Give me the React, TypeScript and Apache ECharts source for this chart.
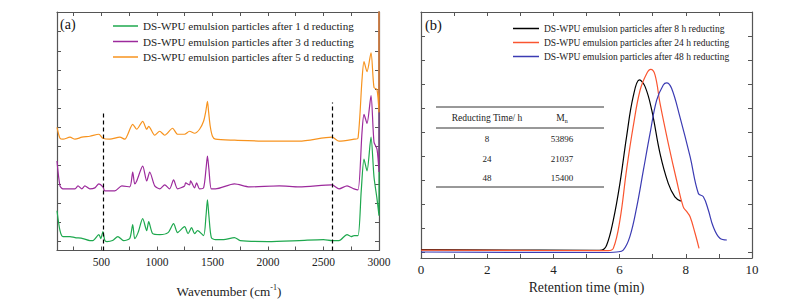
import React, { useEffect, useRef } from "react";
import * as echarts from "echarts";

const FONT = "Liberation Serif";

// ---------- Panel (a): FTIR spectra ----------
const ftirNames = [
  "DS-WPU emulsion particles after 1 d reducting",
  "DS-WPU emulsion particles after 3 d reducting",
  "DS-WPU emulsion particles after 5 d reducting",
];
const ftirColors = ["#1ea84e", "#9c2a9c", "#f7931e"];

const ftir1d: [number, number][] = [
  [100, 40], [127, 20], [154, 14], [217, 14], [262, 13], [333, 12], [396, 10], [423, 10],
  [477, 16], [495, 12], [513, 19], [531, 10], [549, 9], [600, 10], [648, 14], [700, 10],
  [755, 12], [782, 26], [800, 12], [830, 18], [872, 32], [908, 20], [926, 29], [962, 17],
  [1025, 16], [1100, 18], [1150, 27], [1186, 18], [1249, 24], [1280, 17], [1312, 23],
  [1339, 17], [1366, 20], [1420, 15], [1442, 35], [1455, 51], [1468, 35], [1490, 13],
  [1527, 11], [1600, 11], [1698, 13], [1750, 10], [2000, 9], [2281, 10], [2500, 11],
  [2577, 10], [2640, 10], [2712, 16], [2750, 14], [2775, 15], [2811, 15], [2840, 60],
  [2865, 92], [2892, 80], [2928, 114], [2955, 74], [2982, 52], [3000, 35], [3000, 300],
];
const ftir3d: [number, number][] = [
  [100, 90], [127, 65], [154, 62], [217, 62], [262, 62], [289, 65], [324, 62], [351, 65],
  [396, 62], [441, 63], [477, 67], [513, 64], [531, 60], [576, 60], [621, 60], [684, 65],
  [755, 64], [782, 79], [800, 67], [818, 70], [872, 85], [908, 70], [935, 79], [980, 65],
  [1025, 62], [1070, 66], [1114, 62], [1150, 71], [1186, 62], [1249, 65], [1258, 68],
  [1294, 66], [1303, 70], [1339, 63], [1357, 68], [1384, 62], [1420, 63], [1442, 82],
  [1455, 95], [1468, 82], [1490, 62], [1527, 62], [1698, 67], [1833, 64], [2102, 65],
  [2281, 64], [2577, 66], [2640, 62], [2712, 65], [2775, 62], [2811, 61], [2847, 119],
  [2865, 137], [2892, 128], [2928, 156], [2955, 109], [2982, 102], [3000, 79], [3000, 300],
];
const ftir5d: [number, number][] = [
  [100, 124], [127, 113], [154, 112], [217, 114], [262, 112], [324, 114], [396, 115],
  [477, 117], [513, 113], [576, 112], [666, 114], [710, 112], [782, 127], [818, 122],
  [872, 130], [908, 122], [926, 125], [980, 116], [1025, 120], [1070, 116], [1141, 123],
  [1186, 117], [1249, 117], [1294, 120], [1339, 118], [1384, 122], [1420, 130], [1440, 140],
  [1455, 150], [1465, 140], [1480, 125], [1500, 115], [1527, 112], [1700, 111], [2000, 110],
  [2281, 110], [2577, 114], [2640, 110], [2775, 112], [2811, 113], [2847, 172], [2865, 190],
  [2892, 180], [2928, 199], [2955, 164], [2982, 162], [3000, 139], [3000, 300],
];
const dashedMarks = [
  { x: 513, top: 140 },
  { x: 2577, top: 149 },
];
const aXLabels = [500, 1000, 1500, 2000, 2500, 3000];
const aXTicks = [250, 500, 750, 1000, 1250, 1500, 1750, 2000, 2250, 2500, 2750, 3000];
const aYTicks = [9, 28.2, 47.4, 66.6, 85.8, 105, 124.2, 143.4, 162.6, 181.8, 201, 220.2, 239.4];

// ---------- Panel (b): GPC curves ----------
const gpcNames = [
  "DS-WPU emulsion particles after 8 h reducting",
  "DS-WPU emulsion particles after 24 h reducting",
  "DS-WPU emulsion particles after 48 h reducting",
];
const gpcColors = ["#000000", "#fa5530", "#3b3bb3"];

const gpc8h: [number, number][] = [
  [0, 0.1], [5.3, 0.07], [5.46, 0.08], [5.61, 0.29], [5.81, 1.33], [6.01, 2.86], [6.21, 4.8],
  [6.41, 6.47], [6.6, 7.17], [6.77, 6.89], [6.97, 5.92], [7.22, 4.11], [7.47, 2.86],
  [7.67, 2.3], [7.85, 2.12],
];
const gpc24h: [number, number][] = [
  [0, 0.08], [5.5, 0.06], [5.66, 0.06], [5.81, 0.15], [6.01, 1.33], [6.21, 3.42], [6.41, 5.22],
  [6.62, 6.75], [6.82, 7.44], [6.94, 7.61], [7.07, 7.38], [7.22, 6.2], [7.47, 4.53],
  [7.72, 3.0], [7.92, 1.89], [8.03, 1.68], [8.13, 1.47], [8.28, 0.78], [8.4, 0.15],
];
const gpc48h: [number, number][] = [
  [0, 0.0], [5.7, -0.02], [5.91, 0.0], [6.11, 0.08], [6.31, 0.64], [6.52, 1.89], [6.72, 3.42],
  [6.92, 4.94], [7.12, 6.33], [7.32, 6.96], [7.42, 7.05], [7.57, 6.82], [7.82, 5.64],
  [8.13, 3.97], [8.38, 2.44], [8.53, 2.3], [8.68, 1.75], [8.83, 1.05], [9.03, 0.57], [9.24, 0.5],
];
const bXLabels = [0, 2, 4, 6, 8, 10];
const bXTicks = [0, 1, 2, 3, 4, 5, 6, 7, 8, 9, 10];
const bYTicks = [0, 1, 2, 3, 4, 5, 6, 7, 8, 9, 10];

// table
const tableHeader = ["Reducting Time/ h", "M{sub|n}"];
const tableTimes = ["8", "24", "48"];
const tableMn = ["53896", "21037", "15400"];

const axisColor = "#555";

function boxAxes(
  gridIndex: number,
  xmin: number,
  xmax: number,
  xLabels: number[],
  xTicks: number[],
  name: string,
  nameGap: number,
  labelSize: number,
  nameSize: number,
  labelMargin: number,
  nameShift: number
) {
  const common = {
    gridIndex,
    type: "value" as const,
    min: xmin,
    max: xmax,
    splitLine: { show: false },
    axisLine: { show: true, onZero: false, lineStyle: { color: axisColor, width: 1.2 } },
  };
  return [
    {
      ...common,
      position: "bottom",
      axisTick: { show: true, inside: true, length: 4, customValues: xTicks, lineStyle: { color: axisColor } },
      axisLabel: {
        show: true,
        customValues: xLabels,
        formatter: (v: number) => String(v),
        fontFamily: FONT,
        fontSize: labelSize,
        color: "#222",
        margin: labelMargin,
      },
      name,
      nameLocation: "middle",
      nameGap,
      nameTextStyle: {
        fontFamily: FONT,
        fontSize: nameSize,
        color: "#222",
        padding: [0, 0, 0, nameShift],
        rich: { sup: { fontFamily: FONT, fontSize: 8, color: "#222", padding: [0, 0, 8, 0] } },
      },
    },
    {
      ...common,
      position: "top",
      axisTick: { show: true, inside: true, length: 4, customValues: xTicks, lineStyle: { color: axisColor } },
      axisLabel: { show: false },
    },
  ];
}

function boxYAxes(gridIndex: number, ymin: number, ymax: number, ticks: number[]) {
  const common = {
    gridIndex,
    type: "value" as const,
    min: ymin,
    max: ymax,
    splitLine: { show: false },
    axisLabel: { show: false },
    axisLine: { show: true, onZero: false, lineStyle: { color: axisColor, width: 1.2 } },
    axisTick: { show: true, inside: true, length: 4, customValues: ticks, lineStyle: { color: axisColor } },
  };
  return [
    { ...common, position: "left" },
    { ...common, position: "right" },
  ];
}

export default function App() {
  const ref = useRef<HTMLDivElement>(null);

  useEffect(() => {
    if (!ref.current) return;
    const chart = echarts.init(ref.current, undefined, { renderer: "svg" });

    const ftirData = [ftir1d, ftir3d, ftir5d];
    const gpcData = [gpc8h, gpc24h, gpc48h];

    const series: any[] = [];
    ftirData.forEach((d, i) => {
      const s: any = {
        name: ftirNames[i],
        type: "line",
        xAxisIndex: 0,
        yAxisIndex: 0,
        data: d,
        showSymbol: false,
        smooth: 0.25,
        clip: true,
        lineStyle: { color: ftirColors[i], width: 1.2 },
        itemStyle: { color: ftirColors[i] },
        z: 2 + i,
      };
      if (i === 0) {
        s.markLine = {
          silent: true,
          symbol: ["none", "none"],
          label: { show: false },
          lineStyle: { type: [4, 3], color: "#000", width: 1.2 },
          data: dashedMarks.map((m) => [{ coord: [m.x, 0] }, { coord: [m.x, m.top] }]),
        };
      }
      series.push(s);
    });
    gpcData.forEach((d, i) => {
      series.push({
        name: gpcNames[i],
        type: "line",
        xAxisIndex: 2,
        yAxisIndex: 2,
        data: d,
        showSymbol: false,
        smooth: 0.4,
        clip: true,
        lineStyle: { color: gpcColors[i], width: 1.2 },
        itemStyle: { color: gpcColors[i] },
      });
    });

    const tblLeft = 436;
    const tblRight = 604;
    const col1 = 487;
    const col2 = 562;
    const rowYs = [139, 159, 178];
    const graphic: any[] = [
      { type: "text", left: 60, top: 17, style: { text: "(a)", fontFamily: FONT, fontSize: 14, fill: "#111" } },
      { type: "text", left: 425, top: 17, style: { text: "(b)", fontFamily: FONT, fontSize: 14.5, fill: "#111" } },
      { type: "line", shape: { x1: tblLeft, y1: 107, x2: tblRight, y2: 107 }, style: { stroke: "#333", lineWidth: 1 } },
      { type: "line", shape: { x1: tblLeft, y1: 128, x2: tblRight, y2: 128 }, style: { stroke: "#333", lineWidth: 1 } },
      { type: "line", shape: { x1: tblLeft, y1: 187, x2: tblRight, y2: 187 }, style: { stroke: "#333", lineWidth: 1 } },
      {
        type: "text",
        x: col1,
        y: 118,
        style: { text: tableHeader[0], fontFamily: FONT, fontSize: 9.5, fill: "#222", align: "center", verticalAlign: "middle" },
      },
      {
        type: "text",
        x: col2,
        y: 118,
        style: {
          text: tableHeader[1],
          fontFamily: FONT,
          fontSize: 9.5,
          fill: "#222",
          align: "center",
          verticalAlign: "middle",
          rich: { sub: { fontSize: 6, fontFamily: FONT, fill: "#222", padding: [5, 0, 0, 0] } },
        },
      },
    ];
    tableTimes.forEach((t, i) => {
      graphic.push({
        type: "text",
        x: col1,
        y: rowYs[i],
        style: { text: t, fontFamily: FONT, fontSize: 9, fill: "#222", align: "center", verticalAlign: "middle" },
      });
      graphic.push({
        type: "text",
        x: col2,
        y: rowYs[i],
        style: { text: tableMn[i], fontFamily: FONT, fontSize: 9, fill: "#222", align: "center", verticalAlign: "middle" },
      });
    });

    const option: any = {
      animation: false,
      backgroundColor: "#fff",
      textStyle: { fontFamily: FONT },
      grid: [
        { left: 57, top: 12, width: 322, height: 240 },
        { left: 421, top: 12, width: 331, height: 246 },
      ],
      xAxis: [
        ...boxAxes(0, 100, 3000, aXLabels, aXTicks, "Wavenumber (cm{sup|-1})", 33, 11.5, 13.2, 5, 22),
        ...boxAxes(1, 0, 10, bXLabels, bXTicks, "Retention time (min)", 22, 13, 13.8, 5, 0),
      ],
      yAxis: [...boxYAxes(0, 0, 240, aYTicks), ...boxYAxes(1, -0.25, 10, bYTicks)],
      legend: [
        {
          data: ftirNames,
          left: 113,
          top: 19,
          orient: "vertical",
          icon: "rect",
          itemWidth: 25,
          itemHeight: 1.5,
          itemGap: 1.5,
          padding: 0,
          textStyle: { fontFamily: FONT, fontSize: 11.1, color: "#222", lineHeight: 14 },
        },
        {
          data: gpcNames,
          left: 513,
          top: 22,
          orient: "vertical",
          icon: "rect",
          itemWidth: 26,
          itemHeight: 1.5,
          itemGap: 1,
          padding: 0,
          textStyle: { fontFamily: FONT, fontSize: 9.5, color: "#222", lineHeight: 13 },
        },
      ],
      graphic,
      series,
    };
    chart.setOption(option);
    return () => chart.dispose();
  }, []);

  return <div ref={ref} style={{ position: "absolute", left: 0, top: 0, width: 789, height: 303 }} />;
}
